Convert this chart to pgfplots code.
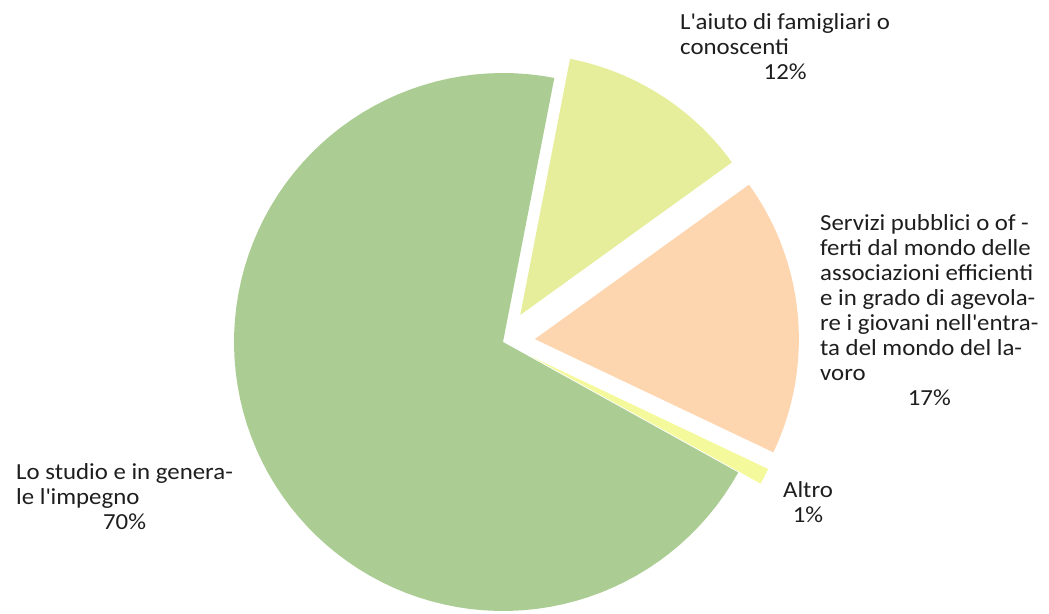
\documentclass[border=0pt]{standalone}
\usepackage{pgfplots}
\pgfplotsset{compat=1.18}
\usepackage{fontspec}
\setmainfont{Carlito}[FakeStretch=1.08]
\definecolor{cGreen}{HTML}{ABCD93}
\definecolor{cLime}{HTML}{E6EE9C}
\definecolor{cPeach}{HTML}{FDD5AF}
\definecolor{cAltro}{HTML}{F4F99B}
\definecolor{txt}{HTML}{1E1E1E}
\newcommand\lbl{\fontsize{23}{25}\selectfont\color{txt}}
% #1 start angle, #2 percent, #3 explode (px), #4 colour, #5 radius
\newcommand\slice[5]{%
 \pgfmathsetmacro\sa{#1}%
 \pgfmathsetmacro\se{#1+3.6*#2}%
 \pgfmathsetmacro\sm{(\sa+\se)/2}%
 \pgfmathsetmacro\scx{503+#3*cos(\sm)}%
 \pgfmathsetmacro\scy{271+#3*sin(\sm)}%
 \edef\doslice{\noexpand\addplot[fill=#4, draw=none, domain=\sa:\se, samples=90] ({\scx+#5*cos(x)},{\scy+#5*sin(x)}) -- (axis cs:\scx,\scy) -- cycle;}%
 \doslice
}
\begin{document}
\begin{tikzpicture}
\begin{axis}[x=1pt,y=1pt,xmin=0,xmax=1049,ymin=0,ymax=613,
  hide axis, clip=false, scale only axis]
\addplot[draw=none] coordinates {(0,0) (1049,613)};
% values: Lo studio 70, Altro 1, Servizi 17, Aiuto 12
\slice{79}{70}{0}{cGreen}{269}
\slice{331}{1}{32}{cAltro}{262}
\slice{334.6}{17}{32}{cPeach}{264}
\slice{395.8}{12}{32}{cLime}{261}
\node[anchor=base west, inner sep=0, font=\lbl] at (axis cs:680,583)
 {\begin{tabular}[t]{@{}l@{}}L\textquotesingle aiuto di famigliari o\\conoscenti\\\multicolumn{1}{@{}c@{}}{12\%}\end{tabular}};
\node[anchor=base west, inner sep=0, font=\lbl] at (axis cs:820,382)
 {\begin{tabular}[t]{@{}l@{}}Servizi pubblici o of -\\ferti dal mondo delle\\associazioni efficienti\\e in grado di agevola-\\re i giovani nell\textquotesingle entra-\\ta del mondo del la-\\voro\\\multicolumn{1}{@{}c@{}}{17\%}\end{tabular}};
\node[anchor=base west, inner sep=0, font=\lbl] at (axis cs:16,133)
 {\begin{tabular}[t]{@{}l@{}}Lo studio e in genera-\\le l\textquotesingle impegno\\\multicolumn{1}{@{}c@{}}{70\%}\end{tabular}};
\node[anchor=base, inner sep=0, font=\lbl] at (axis cs:808,115)
 {\begin{tabular}[t]{@{}c@{}}Altro\\1\%\end{tabular}};
\end{axis}
\end{tikzpicture}
\end{document}
